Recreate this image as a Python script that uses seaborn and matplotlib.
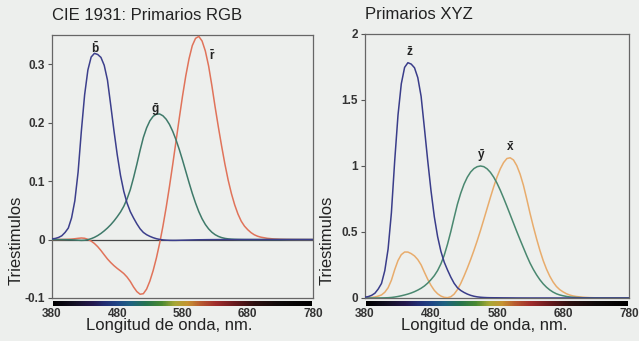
import numpy as np
import pandas as pd
import matplotlib
matplotlib.use("Agg")
import matplotlib.pyplot as plt
from matplotlib.colors import LinearSegmentedColormap
import seaborn as sns

# ---- data (5 nm steps to 700 nm, then 10 nm) ----
wavelength = list(range(380, 701, 5)) + list(range(710, 781, 10))

r_bar = [0.00003, 0.00005, 0.00010, 0.00017, 0.00030, 0.00047, 0.00084, 0.00139,
         0.00211, 0.00266, 0.00218, 0.00036, -0.00261, -0.00673, -0.01213, -0.01874,
         -0.02608, -0.03324, -0.03933, -0.04471, -0.04939, -0.05364, -0.05814, -0.06414,
         -0.07173, -0.08120, -0.08901, -0.09356, -0.09264, -0.08473, -0.07101, -0.05316,
         -0.03152, -0.00613, 0.02279, 0.05514, 0.09060, 0.12840, 0.16768, 0.20715,
         0.24526, 0.27989, 0.30928, 0.33184, 0.34429, 0.34756, 0.33971, 0.32265,
         0.29708, 0.26348, 0.22677, 0.19233, 0.15968, 0.12905, 0.10167, 0.07857,
         0.05932, 0.04366, 0.03149, 0.02294, 0.01687, 0.01187, 0.00819, 0.00572,
         0.00410,
         0.00210, 0.00105, 0.00052, 0.00025, 0.00012, 0.00006, 0.00003, 0.00000]
g_bar = [-0.00001, -0.00002, -0.00004, -0.00007, -0.00014, -0.00022, -0.00041, -0.00070,
         -0.00110, -0.00143, -0.00119, -0.00021, 0.00149, 0.00379, 0.00678, 0.01046,
         0.01485, 0.01977, 0.02538, 0.03183, 0.03914, 0.04713, 0.05689, 0.06948,
         0.08536, 0.10593, 0.12860, 0.15262, 0.17468, 0.19113, 0.20317, 0.21083,
         0.21466, 0.21487, 0.21178, 0.20588, 0.19702, 0.18522, 0.17087, 0.15429,
         0.13610, 0.11686, 0.09754, 0.07909, 0.06246, 0.04776, 0.03557, 0.02583,
         0.01828, 0.01253, 0.00833, 0.00537, 0.00334, 0.00199, 0.00116, 0.00066,
         0.00037, 0.00021, 0.00011, 0.00006, 0.00003, 0.00001, 0.00001, 0.00000,
         0.00000,
         0, 0, 0, 0, 0, 0, 0, 0]
b_bar = [0.00117, 0.00189, 0.00359, 0.00647, 0.01214, 0.01969, 0.03707, 0.06637,
         0.11541, 0.18575, 0.24769, 0.29012, 0.31228, 0.31860, 0.31670, 0.31166,
         0.29821, 0.27295, 0.22991, 0.18592, 0.14494, 0.10968, 0.08257, 0.06246,
         0.04776, 0.03688, 0.02698, 0.01842, 0.01221, 0.00830, 0.00549, 0.00320,
         0.00146, 0.00023, -0.00058, -0.00105, -0.00130, -0.00138, -0.00135, -0.00123,
         -0.00108, -0.00093, -0.00079, -0.00063, -0.00049, -0.00038, -0.00030, -0.00022,
         -0.00015, -0.00011, -0.00008, -0.00005, -0.00003, -0.00002, -0.00001, -0.00001,
         0, 0, 0, 0, 0, 0, 0, 0,
         0,
         0, 0, 0, 0, 0, 0, 0, 0]

x_bar = [0.00137, 0.00224, 0.00424, 0.00765, 0.01431, 0.02319, 0.04351, 0.07763,
         0.13438, 0.21477, 0.28390, 0.32850, 0.34828, 0.34806, 0.33620, 0.31870,
         0.29080, 0.25110, 0.19536, 0.14210, 0.09564, 0.05795, 0.03201, 0.01470,
         0.00490, 0.00240, 0.00930, 0.02910, 0.06327, 0.10960, 0.16550, 0.22575,
         0.29040, 0.35970, 0.43345, 0.51205, 0.59450, 0.67840, 0.76210, 0.84250,
         0.91630, 0.97860, 1.02630, 1.05670, 1.06220, 1.04560, 1.00260, 0.93840,
         0.85445, 0.75140, 0.64240, 0.54190, 0.44790, 0.36080, 0.28350, 0.21870,
         0.16490, 0.12120, 0.08740, 0.06360, 0.04677, 0.03290, 0.02270, 0.01584,
         0.01136,
         0.00579, 0.00290, 0.00144, 0.00069, 0.00033, 0.00017, 0.00008, 0.00004]
y_bar = [0.00004, 0.00006, 0.00012, 0.00022, 0.00040, 0.00064, 0.00121, 0.00218,
         0.00400, 0.00730, 0.01160, 0.01684, 0.02300, 0.02980, 0.03800, 0.04800,
         0.06000, 0.07390, 0.09098, 0.11260, 0.13902, 0.16930, 0.20802, 0.25860,
         0.32300, 0.40730, 0.50300, 0.60820, 0.71000, 0.79320, 0.86200, 0.91485,
         0.95400, 0.98030, 0.99495, 1.00000, 0.99500, 0.97860, 0.95200, 0.91540,
         0.87000, 0.81630, 0.75700, 0.69490, 0.63100, 0.56680, 0.50300, 0.44120,
         0.38100, 0.32100, 0.26500, 0.21700, 0.17500, 0.13820, 0.10700, 0.08160,
         0.06100, 0.04458, 0.03200, 0.02320, 0.01700, 0.01192, 0.00821, 0.00572,
         0.00410,
         0.00209, 0.00105, 0.00052, 0.00025, 0.00012, 0.00006, 0.00003, 0.00002]
z_bar = [0.00645, 0.01055, 0.02005, 0.03621, 0.06785, 0.11020, 0.20740, 0.37130,
         0.64560, 1.03905, 1.38560, 1.62296, 1.74706, 1.78260, 1.77211, 1.74410,
         1.66920, 1.52810, 1.28764, 1.04190, 0.81295, 0.61620, 0.46518, 0.35330,
         0.27200, 0.21230, 0.15820, 0.11170, 0.07825, 0.05725, 0.04216, 0.02984,
         0.02030, 0.01340, 0.00875, 0.00575, 0.00390, 0.00275, 0.00210, 0.00180,
         0.00165, 0.00140, 0.00110, 0.00100, 0.00080, 0.00060, 0.00034, 0.00024,
         0.00019, 0.00010, 0.00005, 0.00003, 0.00002, 0.00001, 0, 0,
         0, 0, 0, 0, 0, 0, 0, 0,
         0,
         0, 0, 0, 0, 0, 0, 0, 0]

left_yticks = [-0.1, 0, 0.1, 0.2, 0.3]
left_yticklabels = ["-0.1", "0", "0.1", "0.2", "0.3"]
right_yticks = [0, 0.5, 1, 1.5, 2]
right_yticklabels = ["0", "0.5", "1", "1.5", "2"]
xticks = [380, 480, 580, 680, 780]

rgb_labels = [("b", 446, 0.327), ("g", 538, 0.222), ("r", 625, 0.315)]
xyz_labels = [("z", 448, 1.86), ("y", 556, 1.08), ("x", 600, 1.14)]

df_rgb = pd.DataFrame({"wl": wavelength, "r": r_bar, "g": g_bar, "b": b_bar})
df_xyz = pd.DataFrame({"wl": wavelength, "x": x_bar, "y": y_bar, "z": z_bar})

# ---- style ----
bg = "#edefed"
sns.set_theme(style="white")
plt.rcParams["font.family"] = ["Liberation Sans", "DejaVu Sans"]
plt.rcParams["mathtext.fontset"] = "custom"
plt.rcParams["mathtext.rm"] = "Liberation Sans"
plt.rcParams["mathtext.bf"] = "Liberation Sans:bold"

col_rgb = {"r": "#e0735a", "g": "#3f7a6a", "b": "#3c3f8c"}
col_xyz = {"x": "#e8ac6c", "y": "#4a8870", "z": "#3a3d8a"}

fig = plt.figure(figsize=(6.39, 3.41), dpi=100, facecolor=bg)
ax1 = fig.add_axes([52/639, 43/341, 261/639, 263/341])
ax2 = fig.add_axes([365/639, 43/341, 264/639, 264/341])

spec_cmap = LinearSegmentedColormap.from_list("spec", [
    (0.00, "#000000"), (0.08, "#141024"), (0.15, "#24184e"), (0.20, "#222e74"),
    (0.25, "#1f4686"), (0.30, "#1e6280"), (0.36, "#26744e"), (0.42, "#4a8a32"),
    (0.47, "#a8a836"), (0.52, "#c69432"), (0.57, "#b85a30"), (0.63, "#a02c2c"),
    (0.70, "#6a1a1e"), (0.78, "#2c1010"), (0.88, "#0e0a0a"), (1.00, "#000000")])
grad = np.linspace(0, 1, 400).reshape(1, -1)

for ax, df, cols, labels, ylim, yt, ytl in [
        (ax1, df_rgb, col_rgb, rgb_labels, (-0.1, 0.35), left_yticks, left_yticklabels),
        (ax2, df_xyz, col_xyz, xyz_labels, (0, 2), right_yticks, right_yticklabels)]:
    ax.set_facecolor(bg)
    if ax is ax1:
        ax.axhline(0, color="#444444", lw=0.9, zorder=1)
    for key in cols:
        sns.lineplot(data=df, x="wl", y=key, ax=ax, color=cols[key], lw=1.1, zorder=3)
    for name, lx, ly in labels:
        ax.text(lx, ly, r"$\mathbf{\bar{%s}}$" % name, ha="center", va="center",
                fontsize=8.5, color="#222222")
    ax.set_xlim(380, 780)
    ax.set_ylim(*ylim)
    ax.set_xticks(xticks)
    ax.set_xticklabels([str(t) for t in xticks], fontsize=8.5, fontweight="bold",
                       color="#333333")
    ax.set_yticks(yt)
    ax.set_yticklabels(ytl, fontsize=8.5, fontweight="bold", color="#333333")
    ax.tick_params(axis="x", length=0, pad=7)
    ax.tick_params(axis="y", length=3, width=0.8, color="#555555", pad=2, left=True)
    for s in ax.spines.values():
        s.set_color("#666666")
        s.set_linewidth(0.9)
    ax.set_xlabel("Longitud de onda, nm.", fontsize=12, labelpad=-1, x=0.45,
                  color="#222222")
    ax.set_ylabel("Triestimulos", fontsize=12, color="#222222")
    # spectrum bar
    ins = ax.inset_axes([0.005, -0.032, 0.99, 0.022])
    ins.imshow(grad, aspect="auto", cmap=spec_cmap)
    ins.set_axis_off()

ax1.yaxis.set_label_coords(-0.107, 0.22)
ax2.yaxis.set_label_coords(-0.114, 0.22)
ax1.set_title("CIE 1931: Primarios RGB", loc="left", fontsize=12, pad=11,
              color="#222222")
ax2.set_title("Primarios XYZ", loc="left", fontsize=12, pad=11, color="#222222")

fig.savefig("out.png", dpi=100, facecolor=bg)
